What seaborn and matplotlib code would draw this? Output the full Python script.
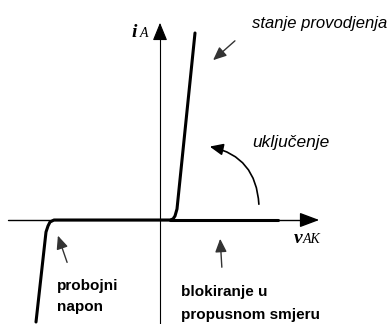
import matplotlib
matplotlib.use("Agg")
import matplotlib.pyplot as plt
import seaborn as sns
import pandas as pd

# ---- data (v in arbitrary units, i in arbitrary units) ----
curve_v = [-12.4, -11.4, -11.2, -11.0, -10.6, 1.0, 1.3, 1.5, 1.7, 3.5]
curve_i = [-10.2, -1.2, -0.6, -0.2, 0.0, 0.0, 0.1, 0.4, 1.1, 18.7]
block_v = [1.0, 11.8]
block_i = [0.0, 0.0]

x_axis_v = [-15.2, 16.2]
y_axis_i = [-10.4, 20.0]

label_i = "i"
label_i_sub = "A"
label_v = "v"
label_v_sub = "AK"
txt_conduct = "stanje provodjenja"
txt_turnon = "uključenje"
txt_breakdown = ["probojni", "napon"]
txt_block = ["blokiranje u", "propusnom smjeru"]

sns.set_style("white")

fig = plt.figure(figsize=(3.92, 3.24), dpi=100)
ax = fig.add_axes([0, 0, 1, 1])

# axes of the diagram
ax.plot([x_axis_v[0], x_axis_v[1] - 1.0], [0, 0], color="black", lw=1.0, zorder=1)
ax.annotate("", xy=(x_axis_v[1], 0), xytext=(x_axis_v[1] - 1.5, 0),
            arrowprops=dict(arrowstyle="-|>,head_length=1.2,head_width=0.45",
                            color="black", lw=1.0, mutation_scale=10))
ax.plot([0, 0], [y_axis_i[0], y_axis_i[1] - 1.0], color="black", lw=0.8, zorder=1)
ax.annotate("", xy=(0, y_axis_i[1]), xytext=(0, y_axis_i[1] - 1.5),
            arrowprops=dict(arrowstyle="-|>,head_length=1.1,head_width=0.45",
                            color="black", lw=0.8, mutation_scale=10))

# characteristic curve
df = pd.DataFrame({"v": curve_v, "i": curve_i})
sns.lineplot(data=df, x="v", y="i", sort=False, color="black", lw=2.2, ax=ax, zorder=3)
dfb = pd.DataFrame({"v": block_v, "i": block_i})
sns.lineplot(data=dfb, x="v", y="i", sort=False, color="black", lw=2.2, ax=ax, zorder=3)
ax.set_xlim(-16.0, 23.2)
ax.set_ylim(-10.4, 22.0)
ax.axis("off")

# axis labels
serif = ["Liberation Serif", "DejaVu Serif"]
ax.text(-2.8, 18.3, label_i, family=serif, style="italic", weight="bold",
        fontsize=14, ha="left", va="baseline", color="black")
ax.text(-2.0, 18.3, label_i_sub, family=serif, style="italic",
        fontsize=10, ha="left", va="baseline", color="black")
ax.text(13.4, -2.3, label_v, family=serif, style="italic", weight="bold",
        fontsize=14, ha="left", va="baseline", color="black")
ax.text(14.3, -2.3, label_v_sub, family=serif, style="italic",
        fontsize=10, ha="left", va="baseline", color="black")

# annotation texts
sans = ["Liberation Sans", "DejaVu Sans"]
ax.text(9.2, 19.2, txt_conduct, family=sans, style="italic", fontsize=12,
        ha="left", va="baseline", color="black")
ax.text(9.2, 7.3, txt_turnon, family=sans, style="italic", fontsize=12.5,
        ha="left", va="baseline", color="black")
ax.text(-10.3, -7.0, txt_breakdown[0], family=sans, weight="bold", fontsize=11,
        ha="left", va="baseline", color="black")
ax.text(-10.3, -9.1, txt_breakdown[1], family=sans, weight="bold", fontsize=11,
        ha="left", va="baseline", color="black")
ax.text(2.1, -7.6, txt_block[0], family=sans, weight="bold", fontsize=11,
        ha="left", va="baseline", color="black")
ax.text(2.1, -9.85, txt_block[1], family=sans, weight="bold", fontsize=11,
        ha="left", va="baseline", color="black")

small = "-|>,head_length=0.8,head_width=0.35"
ax.annotate("", xy=(5.1, 15.8), xytext=(7.7, 18.1),
            arrowprops=dict(arrowstyle=small, color="#333333", lw=1.0,
                            mutation_scale=10))
ax.annotate("", xy=(4.7, 7.4), xytext=(9.9, 1.3),
            arrowprops=dict(arrowstyle=small, color="black", lw=1.2,
                            mutation_scale=10, connectionstyle="arc3,rad=0.4"))
ax.annotate("", xy=(-10.3, -1.3), xytext=(-9.2, -4.5),
            arrowprops=dict(arrowstyle=small, color="#333333", lw=1.0,
                            mutation_scale=10))
ax.annotate("", xy=(6.0, -1.6), xytext=(6.2, -5.0),
            arrowprops=dict(arrowstyle=small, color="#333333", lw=1.0,
                            mutation_scale=10))

fig.savefig("out.png", dpi=100)
